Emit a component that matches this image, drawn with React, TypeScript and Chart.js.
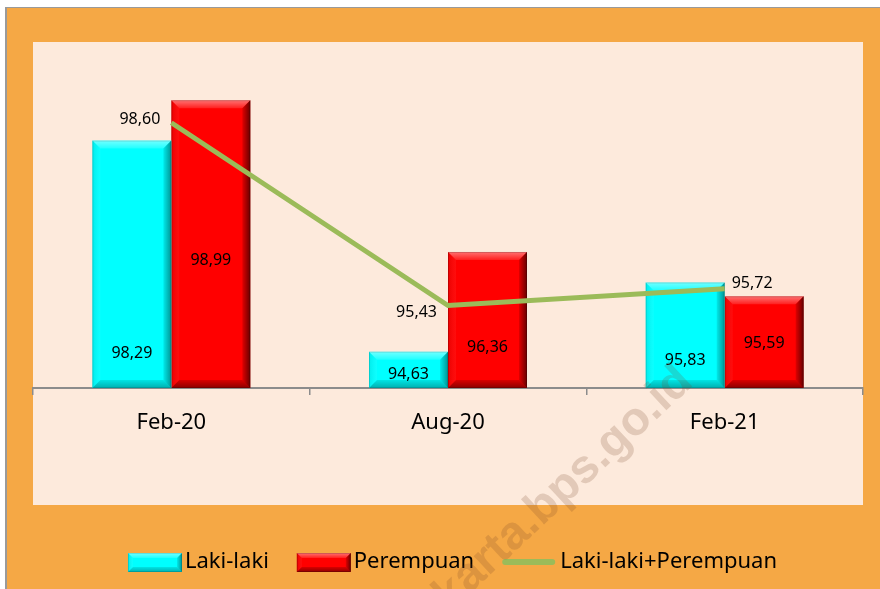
import React, { useEffect, useRef } from 'react';
import { Chart, registerables } from 'chart.js';

Chart.register(...registerables);

// ---- data ----
const categories = ['Feb-20', 'Aug-20', 'Feb-21'];
const lakiLaki = [98.29, 94.63, 95.83];
const perempuan = [98.99, 96.36, 95.59];
const total = [98.6, 95.43, 95.72];
const seriesNames = ['Laki-laki', 'Perempuan', 'Laki-laki+Perempuan'];
const yMin = 94;
const yMax = 100;

// ---- styles ----
const W = 880;
const H = 589;
const FONT = '"Noto Sans", "DejaVu Sans", sans-serif';
const CYAN = '#00FFFF';
const RED = '#FF0000';
const GREEN = '#9BBB59';
const ORANGE = '#F5A845';
const PINK = '#FDEADC';

// label offsets in pixels (bar labels relative to bar base, line labels relative to point)
const barLabelDy = [
  [-35, -14, -28],
  [-128, -41, -45],
];
const lineLabelPos = [
  { dx: -11, dy: -3, align: 'right' },
  { dx: -11, dy: 7, align: 'right' },
  { dx: 7, dy: -5, align: 'left' },
];

const fmt = (v: number) => v.toFixed(2).replace('.', ',');

function drawBevel(ctx: CanvasRenderingContext2D, L: number, T: number, R: number, B: number, b: number, dark: number) {
  // top highlight
  let g = ctx.createLinearGradient(0, T, 0, T + b);
  g.addColorStop(0, 'rgba(255,255,255,0.45)');
  g.addColorStop(1, 'rgba(255,255,255,0.12)');
  ctx.fillStyle = g;
  ctx.beginPath();
  ctx.moveTo(L, T); ctx.lineTo(R, T); ctx.lineTo(R - b, T + b); ctx.lineTo(L + b, T + b); ctx.closePath();
  ctx.fill();
  // left
  g = ctx.createLinearGradient(L, 0, L + b, 0);
  g.addColorStop(0, 'rgba(0,0,0,0.08)');
  g.addColorStop(1, 'rgba(255,255,255,0.05)');
  ctx.fillStyle = g;
  ctx.beginPath();
  ctx.moveTo(L, T); ctx.lineTo(L + b, T + b); ctx.lineTo(L + b, B - b); ctx.lineTo(L, B); ctx.closePath();
  ctx.fill();
  // right
  g = ctx.createLinearGradient(R - b, 0, R, 0);
  g.addColorStop(0, `rgba(0,0,0,${0.12 * dark})`);
  g.addColorStop(1, `rgba(0,0,0,${0.6 * dark})`);
  ctx.fillStyle = g;
  ctx.beginPath();
  ctx.moveTo(R, T); ctx.lineTo(R, B); ctx.lineTo(R - b, B - b); ctx.lineTo(R - b, T + b); ctx.closePath();
  ctx.fill();
  // bottom
  g = ctx.createLinearGradient(0, B - b, 0, B);
  g.addColorStop(0, `rgba(0,0,0,${0.15 * dark})`);
  g.addColorStop(1, `rgba(0,0,0,${0.45 * dark})`);
  ctx.fillStyle = g;
  ctx.beginPath();
  ctx.moveTo(L, B); ctx.lineTo(R, B); ctx.lineTo(R - b, B - b); ctx.lineTo(L + b, B - b); ctx.closePath();
  ctx.fill();
  // thin edge
  ctx.strokeStyle = `rgba(0,0,0,${0.18 * dark})`;
  ctx.lineWidth = 1;
  ctx.strokeRect(L + 0.5, T + 0.5, R - L - 1, B - T - 1);
}

const backgroundPlugin = {
  id: 'bg',
  beforeDraw(chart: any) {
    const { ctx, chartArea } = chart;
    ctx.save();
    ctx.fillStyle = '#ffffff';
    ctx.fillRect(0, 0, W, H);
    ctx.fillStyle = '#9a9a9a';
    ctx.fillRect(5, 7, W - 5, H - 7);
    ctx.fillStyle = ORANGE;
    ctx.fillRect(7, 8, W - 7, H - 8);
    ctx.fillStyle = PINK;
    ctx.fillRect(chartArea.left, chartArea.top, chartArea.right - chartArea.left, 505 - chartArea.top);
    ctx.restore();
  },
};

function barBox(chart: any, el: any) {
  const p = el.getProps(['x', 'y', 'base', 'width'], true);
  const bottom = chart.chartArea.bottom;
  const base = Math.min(p.base, bottom);
  return {
    x: p.x,
    L: p.x - p.width / 2,
    R: p.x + p.width / 2,
    T: Math.min(p.y, base),
    B: Math.max(p.y, base),
  };
}

const bevelPlugin = {
  id: 'bevel',
  afterDatasetDraw(chart: any, args: any) {
    const meta = args.meta;
    if (meta.type !== 'bar') return;
    const ds: any = chart.data.datasets[args.index];
    const ctx = chart.ctx;
    ctx.save();
    meta.data.forEach((el: any) => {
      const r = barBox(chart, el);
      const b = Math.min(8, (r.B - r.T) / 2.5);
      drawBevel(ctx, r.L, r.T, r.R, r.B, b, ds.bevelDark);
    });
    ctx.restore();
  },
};

const labelPlugin = {
  id: 'labels',
  afterDatasetsDraw(chart: any) {
    const ctx = chart.ctx;
    ctx.save();
    ctx.font = `16px ${FONT}`;
    ctx.fillStyle = '#000';
    ctx.textBaseline = 'middle';
    chart.data.datasets.forEach((ds: any, di: number) => {
      const meta = chart.getDatasetMeta(di);
      meta.data.forEach((el: any, i: number) => {
        const v = ds.data[i] as number;
        if (meta.type === 'bar') {
          const r = barBox(chart, el);
          ctx.textAlign = 'center';
          ctx.fillText(fmt(v), r.x, r.B + barLabelDy[di][i]);
        } else {
          const p = el.getProps(['x', 'y'], true);
          const o = lineLabelPos[i];
          ctx.textAlign = o.align;
          ctx.fillText(fmt(v), p.x + o.dx, p.y + o.dy);
        }
      });
    });
    ctx.restore();
  },
};

const legendPlugin = {
  id: 'customLegend',
  afterDraw(chart: any) {
    const ctx = chart.ctx;
    ctx.save();
    ctx.font = `22px ${FONT}`;
    const symW = [54, 54, 57];
    const gapAfter = [28, 26, 0];
    const textGap = 3;
    const widths = seriesNames.map((n) => ctx.measureText(n).width);
    let totalW = 0;
    for (let i = 0; i < 3; i++) totalW += symW[i] + textGap + widths[i] + gapAfter[i];
    let x = 452.5 - totalW / 2;
    const cy = 562;
    for (let i = 0; i < 3; i++) {
      if (i < 2) {
        const top = cy - 9;
        ctx.fillStyle = i === 0 ? CYAN : RED;
        ctx.fillRect(x, top, symW[i], 19);
        drawBevel(ctx, x, top, x + symW[i], top + 19, 5, i === 0 ? 0.7 : 1);
      } else {
        ctx.strokeStyle = GREEN;
        ctx.lineWidth = 6;
        ctx.lineCap = 'round';
        ctx.beginPath();
        ctx.moveTo(x + 5, cy);
        ctx.lineTo(x + symW[i] - 5, cy);
        ctx.stroke();
      }
      x += symW[i] + textGap;
      ctx.fillStyle = '#000';
      ctx.textAlign = 'left';
      ctx.textBaseline = 'middle';
      ctx.fillText(seriesNames[i], x, cy);
      x += widths[i] + gapAfter[i];
    }
    ctx.restore();
  },
};

const watermarkPlugin = {
  id: 'watermark',
  afterDraw(chart: any) {
    const ctx = chart.ctx;
    ctx.save();
    ctx.font = `bold 47px "Liberation Sans", Arial, sans-serif`;
    ctx.fillStyle = 'rgba(120,70,40,0.2)';
    ctx.translate(537, 531);
    ctx.rotate((-43 * Math.PI) / 180);
    const pre = ctx.measureText('jakarta').width;
    const dot = ctx.measureText('.').width;
    ctx.textAlign = 'left';
    ctx.textBaseline = 'alphabetic';
    ctx.fillText('jakarta.bps.go.id', -pre - dot / 2, 0);
    ctx.restore();
  },
};

export default function App() {
  const ref = useRef<HTMLCanvasElement>(null);
  useEffect(() => {
    document.body.style.margin = '0';
    const canvas = ref.current!;
    const chart = new Chart(canvas, {
      type: 'bar',
      data: {
        labels: categories,
        datasets: [
          {
            type: 'bar',
            label: seriesNames[0],
            data: lakiLaki,
            base: yMin,
            backgroundColor: CYAN,
            borderWidth: 0,
            barPercentage: 1,
            categoryPercentage: 0.571,
            order: 1,
            bevelDark: 0.7,
          } as any,
          {
            type: 'bar',
            label: seriesNames[1],
            data: perempuan,
            base: yMin,
            backgroundColor: RED,
            borderWidth: 0,
            barPercentage: 1,
            categoryPercentage: 0.571,
            order: 1,
            bevelDark: 1,
          } as any,
          {
            type: 'line',
            label: seriesNames[2],
            data: total,
            borderColor: GREEN,
            borderWidth: 5,
            pointRadius: 0,
            tension: 0,
            fill: false,
            order: 0,
          } as any,
        ],
      },
      options: {
        responsive: false,
        animation: false,
        devicePixelRatio: 1,
        layout: { padding: { left: 33, right: 17, top: 42, bottom: 154 } },
        plugins: {
          legend: { display: false },
          tooltip: { enabled: false },
        },
        scales: {
          x: {
            grid: {
              display: true,
              drawOnChartArea: false,
              drawTicks: true,
              tickLength: 7,
              color: '#8c8c8c',
              lineWidth: 1.5,
              offset: true,
            },
            border: { display: true, color: '#8c8c8c', width: 2 },
            ticks: { font: { family: FONT, size: 22 }, color: '#000', padding: 15 },
            afterFit: (s: any) => {
              s.height = 47;
            },
          },
          y: { display: false, min: yMin, max: yMax },
        },
      },
      plugins: [backgroundPlugin, bevelPlugin, labelPlugin, legendPlugin, watermarkPlugin],
    });
    return () => chart.destroy();
  }, []);
  return (
    <div style={{ position: 'absolute', left: 0, top: 0, width: W, height: H }}>
      <canvas ref={ref} width={W} height={H} style={{ width: W, height: H, display: 'block' }} />
    </div>
  );
}
